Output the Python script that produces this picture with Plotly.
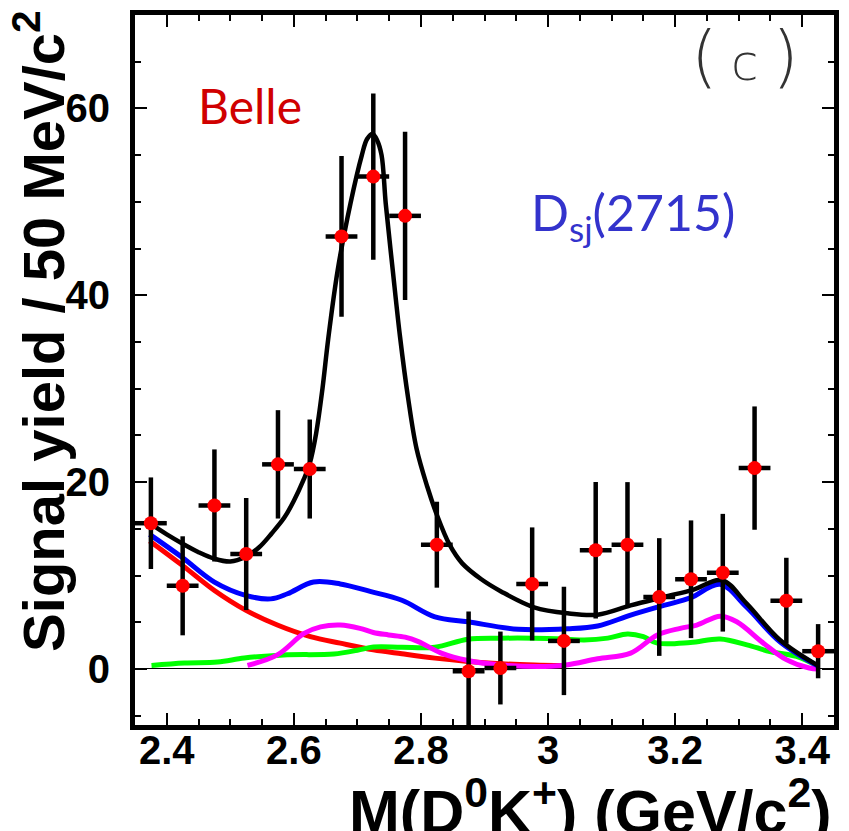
import plotly.graph_objects as go

# ---- data points (bin centres, yields, errors) ----
bin_x = [2.375, 2.425, 2.475, 2.525, 2.575, 2.625, 2.675, 2.725, 2.775, 2.825, 2.875,
         2.925, 2.975, 3.025, 3.075, 3.125, 3.175, 3.225, 3.275, 3.325, 3.375, 3.425]
bin_y = [15.6, 8.9, 17.5, 12.3, 21.9, 21.4, 46.3, 52.7, 48.5, 13.3, -0.25,
         0.1, 9.1, 3.0, 12.7, 13.3, 7.7, 9.6, 10.3, 21.5, 7.3, 1.9]
bin_err = [4.9, 5.3, 6.0, 6.0, 5.8, 5.3, 8.6, 8.9, 9.0, 4.6, 6.4,
           3.9, 6.05, 5.8, 7.3, 6.7, 6.3, 6.3, 6.3, 6.6, 4.6, 2.9]
bin_half = [0.025] * len(bin_x)

# ---- fit curves ----
tot_x = [2.373, 2.40, 2.425, 2.45, 2.475, 2.50, 2.524, 2.545, 2.565, 2.585, 2.60, 2.615,
         2.625, 2.635, 2.645, 2.654, 2.669, 2.689, 2.707, 2.715, 2.7237, 2.731, 2.738,
         2.7446, 2.7556, 2.767, 2.78, 2.793, 2.81, 2.825, 2.845, 2.865, 2.895, 2.926,
         2.978, 3.031, 3.078, 3.13, 3.182, 3.229, 3.2735, 3.3126, 3.365, 3.425]
tot_y = [15.6, 14.4, 13.4, 12.5, 11.8, 11.5, 12.0, 13.0, 14.5, 16.2, 18.0, 20.2,
         22.0, 25.2, 30.0, 35.3, 42.7, 49.8, 55.0, 56.7, 57.3, 56.6, 55.0,
         49.8, 42.7, 35.6, 28.9, 23.6, 19.5, 16.5, 13.3, 11.3, 9.6, 8.3,
         6.6, 5.95, 5.8, 6.8, 7.7, 8.5, 9.5, 7.0, 3.1, 0.35]

bkg_x = [2.373, 2.425, 2.475, 2.524, 2.5635, 2.59, 2.631, 2.673, 2.72, 2.77, 2.822,
         2.874, 2.953, 3.031, 3.078, 3.13, 3.182, 3.224, 3.271, 3.3126, 3.365, 3.425]
bkg_y = [14.4, 11.9, 9.3, 7.88, 7.5, 8.05, 9.3, 9.1, 8.3, 7.35, 5.58,
         5.05, 4.24, 4.3, 4.6, 5.76, 6.8, 7.6, 9.05, 6.6, 2.9, 0.3]

red_x = [2.373, 2.425, 2.475, 2.524, 2.574, 2.626, 2.673, 2.725, 2.77, 2.822, 2.874,
         2.926, 2.9785, 3.025]
red_y = [13.7, 11.06, 8.4, 6.3, 4.7, 3.46, 2.76, 2.05, 1.62, 1.16, 0.8,
         0.56, 0.42, 0.35]

mag_x = [2.527, 2.574, 2.616, 2.642, 2.673, 2.704, 2.725, 2.749, 2.775, 2.796, 2.832,
         2.874, 2.926, 3.005, 3.031, 3.078, 3.13, 3.172, 3.208, 3.234, 3.271, 3.297,
         3.339, 3.375, 3.411, 3.425]
mag_y = [0.38, 1.5, 3.8, 4.5, 4.7, 4.35, 3.9, 3.64, 3.4, 2.93, 1.7,
         0.9, 0.42, 0.28, 0.45, 1.09, 1.7, 3.64, 4.35, 4.7, 5.65, 5.05,
         2.76, 1.0, 0.1, 0.0]

grn_x = [2.376, 2.428, 2.48, 2.522, 2.584, 2.663, 2.70, 2.7253, 2.77, 2.822, 2.874,
         2.926, 2.9785, 3.031, 3.057, 3.094, 3.125, 3.15, 3.172, 3.224, 3.271, 3.313,
         3.349, 3.391, 3.425]
grn_y = [0.38, 0.64, 0.74, 1.17, 1.5, 1.6, 2.0, 2.35, 2.33, 2.33, 3.18,
         3.29, 3.29, 3.18, 3.1, 3.3, 3.74, 3.46, 2.76, 2.83, 3.21, 2.58,
         1.87, 1.34, 0.28]

x_tickvals = [2.4, 2.6, 2.8, 3.0, 3.2, 3.4]
x_ticktext = ["2.4", "2.6", "2.8", "3", "3.2", "3.4"]
y_tickvals = [0, 20, 40, 60]

fig = go.Figure()

def curve(x, y, color, w):
    fig.add_trace(go.Scatter(x=x, y=y, mode="lines",
                             line=dict(color=color, width=w, shape="spline", smoothing=1.0),
                             hoverinfo="skip", showlegend=False))

curve(red_x, red_y, "#ff0000", 5)
curve(grn_x, grn_y, "#00ff00", 5)
curve(mag_x, mag_y, "#ff00ff", 5)
curve(bkg_x, bkg_y, "#0000ff", 5)
curve(tot_x, tot_y, "#000000", 4.5)

fig.add_trace(go.Scatter(
    x=bin_x, y=bin_y, mode="markers",
    marker=dict(color="#ff0000", size=14, symbol="circle"),
    error_y=dict(type="data", array=bin_err, color="black", thickness=4.5, width=0),
    error_x=dict(type="data", array=bin_half, color="black", thickness=4.5, width=0),
    showlegend=False,
))

tickfont = dict(family="Liberation Sans", size=40, color="black", weight="bold")

fig.update_layout(
    width=849, height=831,
    margin=dict(l=135, r=10, t=10, b=106),
    paper_bgcolor="white", plot_bgcolor="white",
    showlegend=False,
    xaxis=dict(range=[2.35, 3.45], tickvals=x_tickvals, ticktext=x_ticktext,
               ticks="inside", ticklen=12, tickwidth=2, tickcolor="black",
               minor=dict(dtick=0.05, tick0=2.35, ticks="inside", ticklen=6, tickwidth=1.5,
                          tickcolor="black", showgrid=False),
               showline=True, linewidth=5, linecolor="black", mirror="allticks",
               showgrid=False, zeroline=False, tickfont=tickfont, ticklabelstandoff=-14),
    yaxis=dict(range=[-6, 70], tickvals=y_tickvals,
               ticks="inside", ticklen=12, tickwidth=2, tickcolor="black",
               minor=dict(dtick=5, tick0=0, ticks="inside", ticklen=6, tickwidth=1.5,
                          tickcolor="black", showgrid=False),
               showline=True, linewidth=5, linecolor="black", mirror="allticks",
               showgrid=False, zeroline=True, zerolinecolor="black", zerolinewidth=1,
               tickfont=tickfont, ticklabelstandoff=12),
)

fig.add_annotation(text="M(D<sup>0</sup>K<sup>+</sup>) (GeV/c<sup>2</sup>)",
                   xref="paper", yref="paper", x=1.0, y=-0.058, xanchor="right", yanchor="top",
                   showarrow=False,
                   font=dict(family="Liberation Sans", size=61, color="black", weight="bold"))
fig.add_annotation(text="Signal yield / 50 MeV/c<sup>2</sup>", textangle=-90,
                   xref="paper", yref="paper", x=-0.136, y=0.555, xanchor="center", yanchor="middle",
                   showarrow=False,
                   font=dict(family="Liberation Sans", size=58, color="black", weight="bold"))
fig.add_annotation(text="Belle", xref="paper", yref="paper",
                   x=(251 - 135) / 704.5, y=(725 - 101) / 715, xanchor="center", yanchor="middle",
                   showarrow=False, font=dict(family="Lato", size=48, color="#d00000"))
fig.add_annotation(text="D<sub>sj</sub>(2715)", xref="paper", yref="paper",
                   x=(637 - 135) / 704.5, y=(725 - 212) / 715, xanchor="center", yanchor="middle",
                   showarrow=False, font=dict(family="Lato", size=50, color="#3333cc"))
fig.add_annotation(text="(\u2009<span style='font-size:50px'>c</span>\u2009)", xref="paper", yref="paper",
                   x=(750 - 135) / 704.5, y=(725 - 52) / 715, xanchor="center", yanchor="middle",
                   showarrow=False, font=dict(family="DejaVu Sans", size=68, color="#333333", weight=200))

fig.write_html("out.html")
